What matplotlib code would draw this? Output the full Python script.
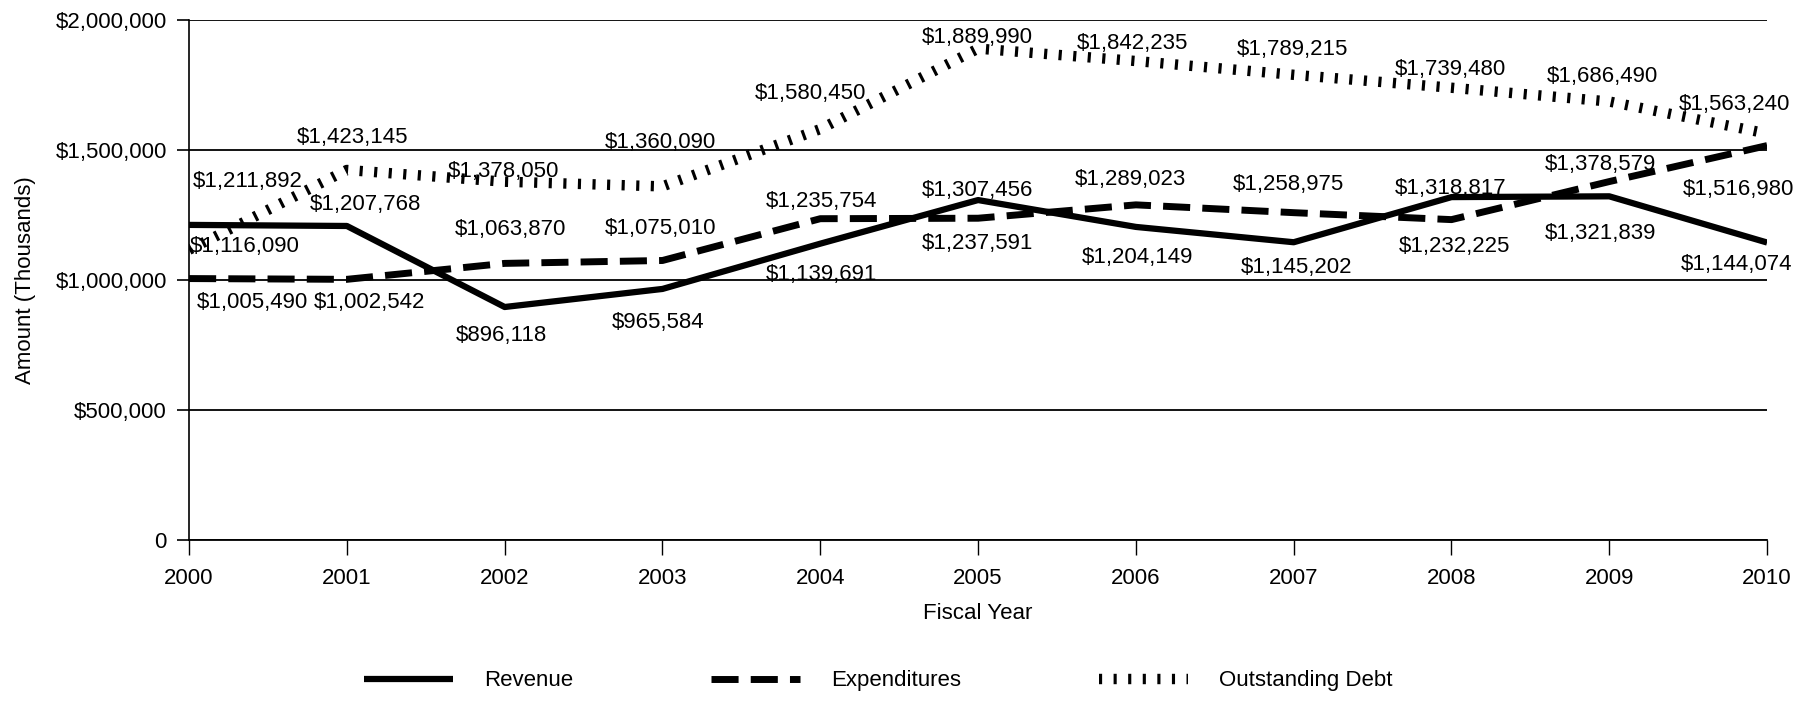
import matplotlib
matplotlib.use("Agg")
import matplotlib.pyplot as plt
from matplotlib.ticker import FuncFormatter

plt.rcParams["font.family"] = ["Liberation Sans", "DejaVu Sans"]

years = [2000, 2001, 2002, 2003, 2004, 2005, 2006, 2007, 2008, 2009, 2010]
revenue = [1211892, 1207768, 896118, 965584, 1139691, 1307456,
           1204149, 1145202, 1318817, 1321839, 1144074]
expenditures = [1005490, 1002542, 1063870, 1075010, 1235754, 1237591,
                1289023, 1258975, 1232225, 1378579, 1516980]
outstanding_debt = [1116090, 1423145, 1378050, 1360090, 1580450, 1889990,
                    1842235, 1789215, 1739480, 1686490, 1563240]

# label offsets in pixels from each point (x right, y down, as measured on the original)
revenue_offsets = [(59, -43), (19, -21), (-3, 28), (-4, 34), (1, 31), (-1, -10),
                   (2, 31), (3, 25), (-1, -9), (-9, 37), (-31, 22)]
expenditure_offsets = [(63, 24), (23, 23), (6, -34), (-2, -32), (1, -17), (-1, 25),
                       (-5, -25), (-5, -28), (3, 27), (-9, -17), (-29, 44)]
debt_offsets = [(56, -3), (6, -32), (-1, -10), (-2, -44), (-10, -36), (-1, -11),
                (-3, -18), (-1, -25), (-1, -18), (-7, -25), (-33, -29)]

FS = 16


def money(v, pos=None):
    if v == 0:
        return "0"
    return f"${v:,.0f}"


def label_points(ax, values, offsets):
    for yr, v, (dx, dy) in zip(years, values, offsets):
        ax.annotate(money(v), (yr, v), xytext=(dx, -dy), textcoords="offset pixels",
                    ha="center", va="center", fontsize=FS)


def main():
    fig = plt.figure(figsize=(18.18, 7.02), dpi=100)
    ax = fig.add_axes([0.104, 0.2308, 0.868, 0.7407])

    ax.plot(years, revenue, color="black", lw=4.5, solid_capstyle="butt",
            label="Revenue")
    ax.plot(years, expenditures, color="black", lw=5, linestyle=(0, (3.9, 1.75)),
            label="Expenditures")
    ax.plot(years, outstanding_debt, color="black", lw=7.5, linestyle=(0, (0.3, 1.1)),
            label="Outstanding Debt")

    label_points(ax, revenue, revenue_offsets)
    label_points(ax, expenditures, expenditure_offsets)
    label_points(ax, outstanding_debt, debt_offsets)

    ax.set_xlim(2000, 2010)
    ax.set_ylim(0, 2000000)
    ax.set_xticks(years)
    ax.set_yticks([0, 500000, 1000000, 1500000, 2000000])
    ax.yaxis.set_major_formatter(FuncFormatter(money))

    ax.grid(axis="y", color="black", lw=1.3)
    ax.set_axisbelow(True)
    for side in ["top", "right"]:
        ax.spines[side].set_visible(False)
    ax.spines["left"].set_linewidth(1.2)
    ax.spines["bottom"].set_linewidth(1.3)
    ax.tick_params(axis="x", direction="out", length=11, width=1, pad=9, labelsize=FS)
    ax.tick_params(axis="y", direction="out", length=9, width=1.2, pad=7, labelsize=FS)

    ax.set_xlabel("Fiscal Year", fontsize=FS, labelpad=10)
    ax.set_ylabel("Amount (Thousands)", fontsize=FS, labelpad=14)

    fig.legend(loc="center", bbox_to_anchor=(0.483, 0.03), ncol=3, frameon=False,
               fontsize=FS, handlelength=4.0, handletextpad=1.4, columnspacing=6.2)

    fig.savefig("out.png", dpi=100)


if __name__ == "__main__":
    main()
